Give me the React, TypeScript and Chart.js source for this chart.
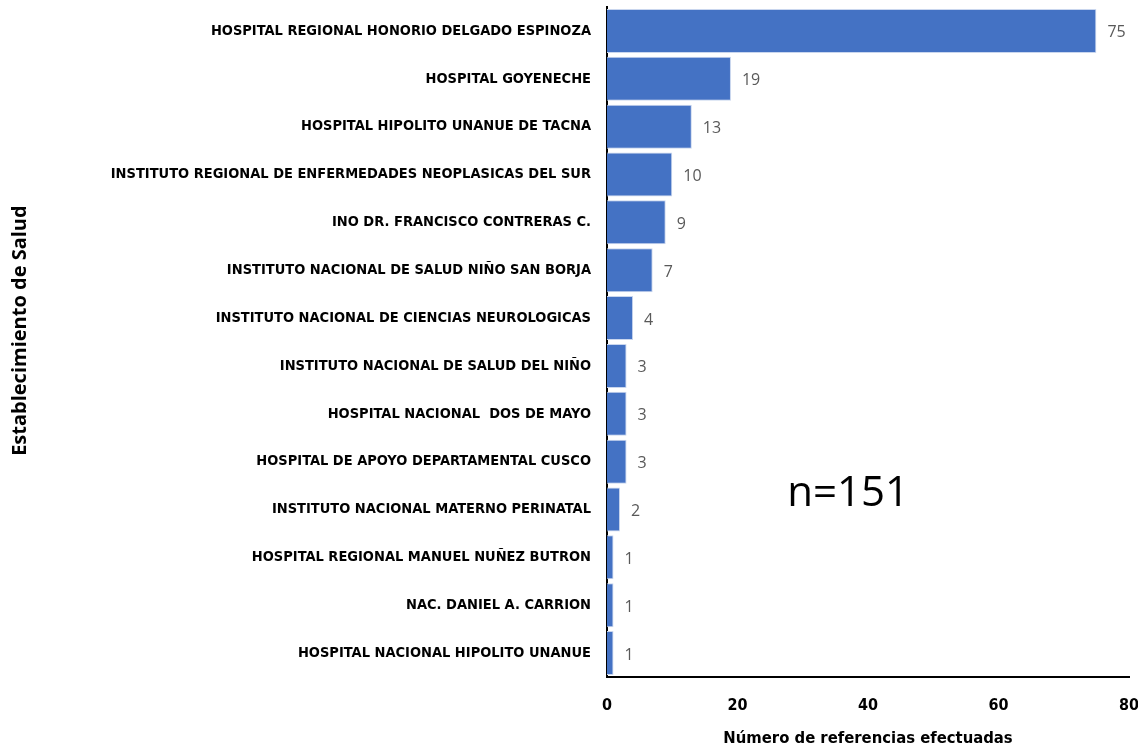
import React, { useEffect, useRef } from "react";
import { Chart, registerables } from "chart.js";

Chart.register(...registerables);

const categories: string[] = [
  "HOSPITAL REGIONAL HONORIO DELGADO ESPINOZA",
  "HOSPITAL GOYENECHE",
  "HOSPITAL HIPOLITO UNANUE DE TACNA",
  "INSTITUTO REGIONAL DE ENFERMEDADES NEOPLASICAS DEL SUR",
  "INO DR. FRANCISCO CONTRERAS C.",
  "INSTITUTO NACIONAL DE SALUD NIÑO SAN BORJA",
  "INSTITUTO NACIONAL DE CIENCIAS NEUROLOGICAS",
  "INSTITUTO NACIONAL DE SALUD DEL NIÑO",
  "HOSPITAL NACIONAL  DOS DE MAYO",
  "HOSPITAL DE APOYO DEPARTAMENTAL CUSCO",
  "INSTITUTO NACIONAL MATERNO PERINATAL",
  "HOSPITAL REGIONAL MANUEL NUÑEZ BUTRON",
  "NAC. DANIEL A. CARRION",
  "HOSPITAL NACIONAL HIPOLITO UNANUE",
];

const referencias: number[] = [75, 19, 13, 10, 9, 7, 4, 3, 3, 3, 2, 1, 1, 1];

const xTitle = "Número de referencias efectuadas";
const yTitle = "Establecimiento de Salud";
const annotationText = "n=151";

const labelFont = '"DejaVu Sans Condensed", "DejaVu Sans", sans-serif';
const valueFont = '"Open Sans", "Noto Sans", sans-serif';

const valueLabels = {
  id: "valueLabels",
  afterDatasetsDraw(chart: any) {
    const ctx = chart.ctx;
    const meta = chart.getDatasetMeta(0);
    ctx.save();
    ctx.fillStyle = "#595959";
    ctx.font = `16px ${valueFont}`;
    ctx.textAlign = "left";
    ctx.textBaseline = "middle";
    meta.data.forEach((bar: any, i: number) => {
      ctx.fillText(String(referencias[i]), bar.x + 11, bar.y + 2);
    });
    const area = chart.chartArea;
    ctx.fillStyle = "#000000";
    ctx.font = `42px ${valueFont}`;
    ctx.textAlign = "center";
    ctx.fillText(annotationText, area.left + (area.right - area.left) * 0.462, area.top + (area.bottom - area.top) * 0.727);
    // y-axis title
    ctx.save();
    ctx.translate(20, area.top + (area.bottom - area.top) * 0.483);
    ctx.rotate(-Math.PI / 2);
    ctx.font = `bold 20px ${valueFont}`;
    ctx.textAlign = "center";
    ctx.textBaseline = "middle";
    ctx.fillText(yTitle, 0, 0);
    ctx.restore();
    ctx.restore();
  },
};

export default function App() {
  const canvasRef = useRef<HTMLCanvasElement | null>(null);

  useEffect(() => {
    document.body.style.margin = "0";
    const canvas = canvasRef.current;
    if (!canvas) return;
    const chart = new Chart(canvas, {
      type: "bar",
      data: {
        labels: categories,
        datasets: [
          {
            data: referencias,
            backgroundColor: "#4472C4",
            borderColor: "#C9D6EE",
            borderWidth: 1,
            barPercentage: 0.92,
            categoryPercentage: 1,
          },
        ],
      },
      options: {
        indexAxis: "y",
        animation: false,
        responsive: false,
        maintainAspectRatio: false,
        layout: { padding: { left: 4, right: 9, top: 7, bottom: 0 } },
        plugins: {
          legend: { display: false },
          tooltip: { enabled: false },
        },
        scales: {
          x: {
            min: 0,
            max: 80,
            ticks: {
              stepSize: 20,
              color: "#000000",
              font: { family: labelFont, size: 16, weight: "bold" },
              padding: 19,
            },
            grid: { display: false, drawTicks: false },
            border: { display: true, color: "#000000", width: 2 },
            title: {
              display: true,
              text: xTitle,
              color: "#000000",
              font: { family: labelFont, size: 16.5, weight: "bold" },
              padding: { top: 4, bottom: 3 },
            },
            afterFit(scale: any) {
              scale.height = 75;
              scale.paddingLeft = 0;
              scale.paddingRight = 0;
              scale.paddingTop = 0;
              scale.paddingBottom = 0;
            },
          },
          y: {
            ticks: {
              color: "#000000",
              font: { family: labelFont, size: 14.5, weight: "bold" },
              padding: 16,
              autoSkip: false,
            },
            grid: { display: false, drawTicks: false },
            border: { display: true, color: "#000000", width: 2 },
            title: { display: false },
            afterFit(scale: any) {
              scale.width = 607 - 4;
              scale.paddingLeft = 0;
              scale.paddingRight = 0;
              scale.paddingTop = 0;
              scale.paddingBottom = 0;
            },
          },
        },
      },
      plugins: [valueLabels],
    });
    return () => chart.destroy();
  }, []);

  return (
    <div style={{ width: 1138, height: 752 }}>
      <canvas ref={canvasRef} width={1138} height={752} style={{ display: "block" }} />
    </div>
  );
}
